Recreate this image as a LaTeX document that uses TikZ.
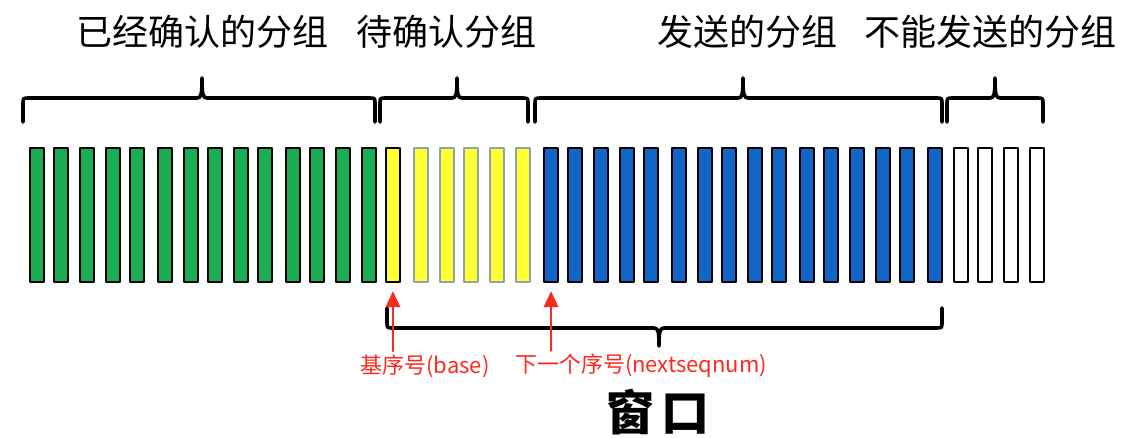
\documentclass[tikz,border=0pt]{standalone}
\usepackage{fontspec}
\setmainfont{Noto Sans CJK SC}
\usepackage{tikz}
\usetikzlibrary{arrows.meta,calc}
\definecolor{ackgreen}{RGB}{27,173,84}
\definecolor{pendyellow}{RGB}{255,255,51}
\definecolor{sentblue}{RGB}{17,102,200}
\definecolor{pendgray}{RGB}{143,163,170}
\definecolor{ptrred}{RGB}{255,40,30}
\begin{document}
\begin{tikzpicture}[x=1pt, y=-1pt, line cap=round, line join=round,
    packet/.style={draw=black, line width=1.6pt, minimum width=14.5pt, minimum height=134.5pt, inner sep=0pt},
    curly/.style={line width=3.6pt, black},
    ptr/.style={-{Triangle[width=14pt,length=16pt]}, line width=2.8pt, ptrred, shorten >=8pt},
    grouplabel/.style={font=\fontsize{36}{40}\selectfont},
    ptrlabel/.style={font=\fontsize{22}{24}\selectfont, text=ptrred}]
    \useasboundingbox (0,0) rectangle (1124,438);

    % Bestätigte Pakete (grün)
    \foreach \x [count=\i from 0] in {29,53,79,105,129,157,183,207,233,257,285,309,335,361}
        \node[packet, fill=ackgreen] (bar\i) at (\x+8,215) {};
    % erstes unbestätigtes Paket (base)
    \node[packet, fill=pendyellow] (bar14) at (385+8,215) {};
    \foreach \x [count=\i from 15] in {413,439,463,489,515}
        \node[packet, fill=pendyellow, draw=pendgray] (bar\i) at (\x+8,215) {};
    % gesendet, aber nutzbar (blau)
    \foreach \x [count=\i from 20] in {543,567,593,619,643,671,697,721,747,771,799,823,849,875,899,927}
        \node[packet, fill=sentblue] (bar\i) at (\x+8,215) {};
    % außerhalb des Fensters
    \foreach \x [count=\i from 36] in {953,977,1003,1029}
        \node[packet, fill=white] (bar\i) at (\x+8,215) {};

    % obere Klammern
    \foreach \xa/\xb/\xm in {23/375/202, 380/528/457, 535/942/743, 947/1043/995}
        \draw[curly] (\xa,122) -- (\xa,104) .. controls (\xa,98) .. (\xa+6,98)
            -- (\xm-5,98) .. controls (\xm-1,98) and (\xm,95) .. (\xm,78)
            .. controls (\xm,95) and (\xm+1,98) .. (\xm+5,98)
            -- (\xb-6,98) .. controls (\xb,98) .. (\xb,104) -- (\xb,122);

    % untere Klammer (Fenster)
    \draw[curly] (387,308) -- (387,322) .. controls (387,328) .. (393,328)
        -- (654,328) .. controls (658,328) and (659,331) .. (659,346)
        .. controls (659,331) and (660,328) .. (664,328)
        -- (936,328) .. controls (942,328) .. (942,322) -- (942,308);

    % Beschriftungen oben
    \node[grouplabel] (lblAcked) at (202,32) {已经确认的分组};
    \node[grouplabel] (lblPending) at (446,32) {待确认分组};
    \node[grouplabel] (lblUsable) at (747,32) {发送的分组};
    \node[grouplabel] (lblBlocked) at (990,32) {不能发送的分组};

    % Zeiger
    \node[ptrlabel] (lblBase) at (425,366) {基序号(base)};
    \node[ptrlabel] (lblNext) at (641,366) {下一个序号(nextseqnum)};
    \draw[ptr] (bar14.south |- lblBase.north) -- (bar14.south);
    \draw[ptr] (bar20.south |- lblNext.north) -- (bar20.south);

    % Fenster
    \node[font=\fontsize{48}{50}\selectfont\bfseries] (lblWindow) at (658,412) {窗\hspace{8pt}口};
\end{tikzpicture}
\end{document}
